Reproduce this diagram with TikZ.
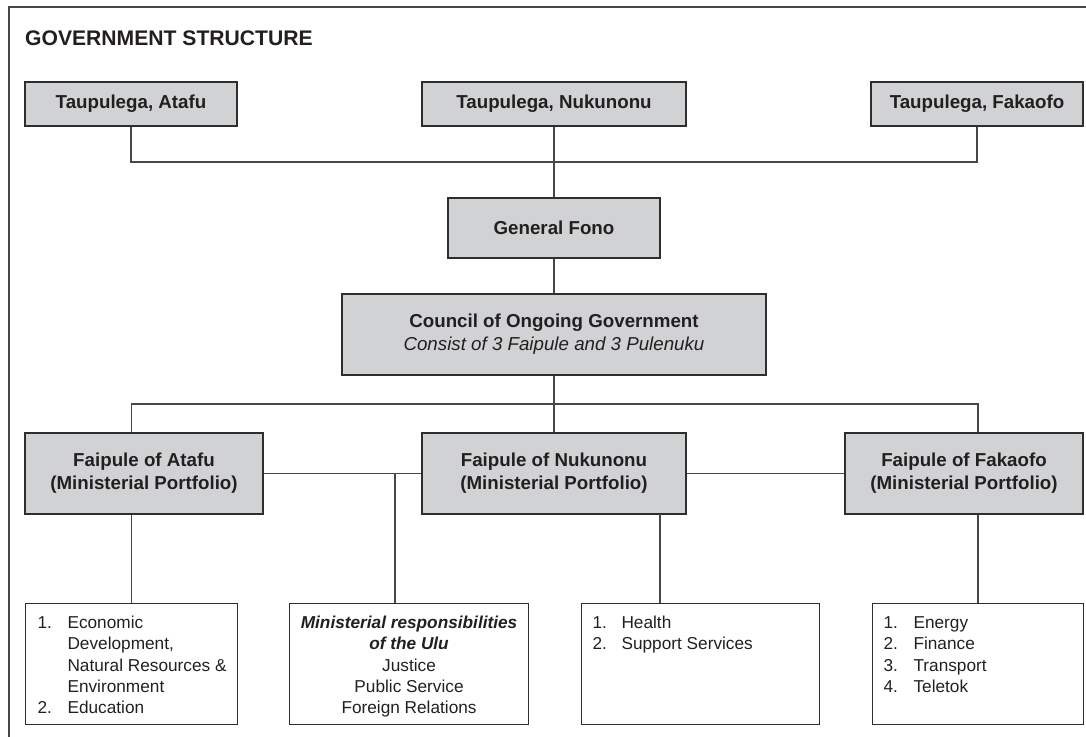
\documentclass[tikz,border=0pt]{standalone}
\usepackage{fontspec}
\setmainfont{Liberation Sans}
\usepackage{tikz}
\usetikzlibrary{calc,positioning}

\definecolor{boxfill}{HTML}{D1D2D4}
\definecolor{boxline}{HTML}{2E2E2E}
\definecolor{linkgray}{HTML}{474747}
\definecolor{inkgray}{HTML}{231F20}

\tikzset{
  govbox/.style={draw=boxline,fill=boxfill,line width=1.2bp,inner sep=0pt,align=center,
    text=inkgray,font=\bfseries\fontsize{18.8}{23}\selectfont},
  listbox/.style={draw=boxline,line width=1.1bp,inner sep=0pt,text=inkgray,
    font=\fontsize{17.3}{21.4}\selectfont},
  link/.style={draw=linkgray,line width=1.2bp},
}

\begin{document}
\begin{tikzpicture}[x=1bp,y=-1bp]
        \useasboundingbox (0,0) rectangle (1086,737);
        % frame and title
        \draw[draw=linkgray,line width=1.4bp] (9,737) -- (9,7) -- (1086,7);
        \node [anchor=base west,inner sep=0pt,text=inkgray,font=\bfseries\fontsize{21.2}{25}\selectfont] (title) at (25,46) {GOVERNMENT STRUCTURE};

        % Taupulega
        \node [govbox,minimum width=212bp,minimum height=44bp] (tpa) at (131,104) {Taupulega, Atafu};
        \node [govbox,minimum width=264bp,minimum height=44bp] (tpn) at (554,104) {Taupulega, Nukunonu};
        \node [govbox,minimum width=212bp,minimum height=44bp] (tpf) at (977,104) {Taupulega, Fakaofo};

        \node [govbox,minimum width=212bp,minimum height=60bp] (fono) at (554,228) {General Fono};
        \node [govbox,minimum width=424bp,minimum height=81bp] (cog) at (554,334.5)
            {Council of Ongoing Government\\{\mdseries\itshape Consist of 3 Faipule and 3 Pulenuku}};

        % Faipule
        \node [govbox,minimum width=238bp,minimum height=81bp] (fpa) at (144,473.5) {Faipule of Atafu\\(Ministerial Portfolio)};
        \node [govbox,minimum width=264bp,minimum height=81bp] (fpn) at (554,473.5) {Faipule of Nukunonu\\(Ministerial Portfolio)};
        \node [govbox,minimum width=238bp,minimum height=81bp] (fpf) at (964,473.5) {Faipule of Fakaofo\\(Ministerial Portfolio)};

        % portfolios
        \node [listbox,anchor=north west] (lsa) at (25,603) {\parbox[c][121bp][t]{212bp}{\vspace*{10bp}\noindent\hspace*{12bp}%
            \begin{tabular}[t]{@{}p{30bp}@{}l@{}}1. & Economic\\ & Development,\\ & Natural Resources \&\\ & Environment\\ 2. & Education\end{tabular}}};
        \node [listbox,anchor=north west] (lsu) at (289,603) {\parbox[c][121bp][t]{239bp}{\vspace*{10bp}\centering
            \begin{tabular}[t]{@{}c@{}}\textbf{\textit{Ministerial responsibilities}}\\ \textbf{\textit{of the Ulu}}\\ Justice\\ Public Service\\ Foreign Relations\end{tabular}\par}};
        \node [listbox,anchor=north west] (lsn) at (581,603) {\parbox[c][121bp][t]{238bp}{\vspace*{10bp}\noindent\hspace*{11bp}%
            \begin{tabular}[t]{@{}p{29bp}@{}l@{}}1. & Health\\ 2. & Support Services\end{tabular}}};
        \node [listbox,anchor=north west] (lsf) at (872,603) {\parbox[c][121bp][t]{211bp}{\vspace*{10bp}\noindent\hspace*{11bp}%
            \begin{tabular}[t]{@{}p{30bp}@{}l@{}}1. & Energy\\ 2. & Finance\\ 3. & Transport\\ 4. & Teletok\end{tabular}}};

        % connectors
        \coordinate (top) at (554,162);
        \coordinate (mid) at (554,404);
        \coordinate (ulu) at (395,473.5);
        \coordinate (nuk) at (660,514);
        \draw[link] (tpa.south) |- (top) -| (tpf.south);
        \draw[link] (tpn.south) -- (fono.north);
        \draw[link] (fono.south) -- (cog.north);
        \draw[link] (cog.south) -- (fpn.north);
        \draw[link] (lsa.north |- fpa.north) |- (mid) -| (lsf.north |- fpf.north);
        \draw[link] (fpa.east) -- (fpn.west);
        \draw[link] (fpn.east) -- (fpf.west);
        \draw[link] (lsa.north |- fpa.south) -- (lsa.north);
        \draw[link] (ulu) -- (ulu |- lsu.north);
        \draw[link] (nuk) -- (nuk |- lsn.north);
        \draw[link] (lsf.north |- fpf.south) -- (lsf.north);
\end{tikzpicture}
\end{document}
